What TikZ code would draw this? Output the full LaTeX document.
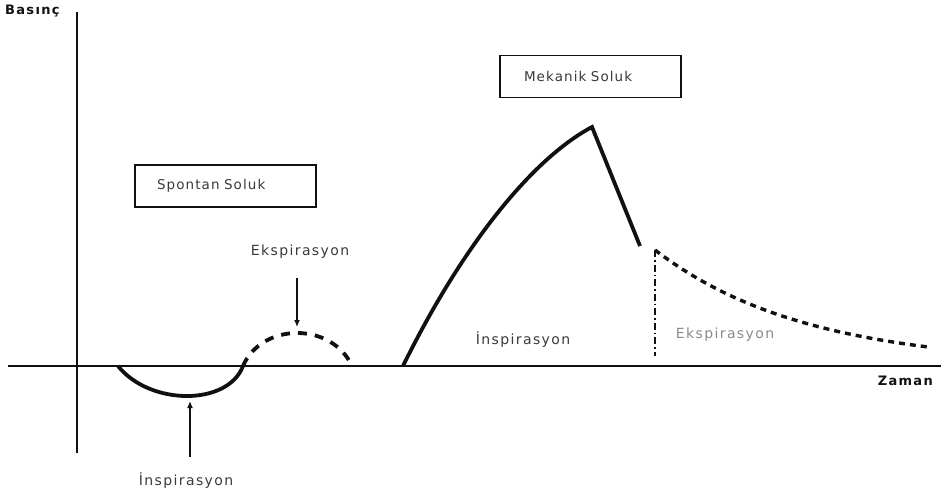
\documentclass[tikz,border=0pt]{standalone}
\usepackage{fontspec}
\setmainfont{DejaVu Sans}
\newfontfamily\lblfont[LetterSpace=10,WordSpace=2.2]{DejaVu Sans}
\newfontfamily\boxfont[LetterSpace=8,WordSpace=2.2]{DejaVu Sans}
\newfontfamily\axfont[LetterSpace=10]{DejaVu Sans}
\usetikzlibrary{arrows.meta}
\definecolor{ink}{HTML}{111111}
\definecolor{txt}{HTML}{3A3A3A}
\definecolor{lighttxt}{HTML}{8A8A8A}
\tikzset{
  axisline/.style={line width=2pt, draw=ink},
  wave/.style={line width=3.8pt, draw=ink},
  wavedash/.style={line width=3.8pt, draw=ink, dash pattern=on 9pt off 8pt},
  decaydash/.style={line width=3.4pt, draw=ink, dash pattern=on 6pt off 5pt},
  marker/.style={line width=1.8pt, draw=ink, dash pattern=on 7pt off 3pt on 1.5pt off 3pt},
  pointer/.style={line width=1.3pt, draw=ink, -{Latex[length=7pt,width=6pt]}},
  tag/.style={font=\lblfont\fontsize{14}{16}\selectfont, text=txt, inner sep=0pt},
  axtag/.style={font=\axfont\bfseries\fontsize{13}{15}\selectfont, text=ink, inner sep=0pt},
  titlebox/.style={draw=ink, line width=1.4pt, minimum height=42pt, align=left,
    font=\boxfont\fontsize{13.5}{15}\selectfont, text=txt},
}
\begin{document}
\begin{tikzpicture}[x=1pt,y=-1pt]
\useasboundingbox (0,0) rectangle (941,499);

% axes
\coordinate (xl) at (8,366);
\coordinate (xr) at (941,366);
\coordinate (yt) at (77,12);
\coordinate (yb) at (77,453);
\draw[axisline] (xl) -- (xr);
\draw[axisline] (yt) -- (yb);
\node[axtag, anchor=north west] (ylab) at (5,5) {Basınç};
\node[axtag, anchor=north east] (xlab) at (933,376) {Zaman};

% spontaneous breath
\node[titlebox, text width=137pt, inner xsep=22pt] (spbox) at (225.5,186) {Spontan Soluk};
\coordinate (s0) at (118,366);
\coordinate (s1) at (243,366);
\coordinate (s2) at (352,366);
\draw[wave] (s0) .. controls (150,406) and (228,406) .. (s1);
\draw[wavedash] (s1) .. controls (262,322) and (332,322) .. (s2);

\node[tag] (sexp) at (300,252) {Ekspirasyon};
\coordinate (sexptip) at (297,327);
\draw[pointer] (297,278) -- (sexptip);

\node[tag] (sinsp) at (186,481) {İnspirasyon};
\coordinate (sinsptip) at (190,401);
\draw[pointer] (190,457) -- (sinsptip);

% mechanical breath
\node[titlebox, text width=133pt, inner xsep=24pt] (mkbox) at (590.5,76.5) {Mekanik Soluk};
\coordinate (m0) at (403,366);
\coordinate (mpk) at (592,127);
\coordinate (mend) at (640,246);
\coordinate (d0) at (655,250);
\coordinate (dbase) at (655,356);
\draw[wave] (m0) .. controls (460,250) and (530,160) .. (mpk) -- (mend);
\draw[decaydash] plot[domain=655:930, samples=60] (\x, {366-116*exp(-0.00662*(\x-655))});
\draw[marker] (d0) -- (dbase);

\node[tag] (minsp) at (523,340) {İnspirasyon};
\node[tag, text=lighttxt] (mexp) at (725,335) {Ekspirasyon};
\end{tikzpicture}
\end{document}
